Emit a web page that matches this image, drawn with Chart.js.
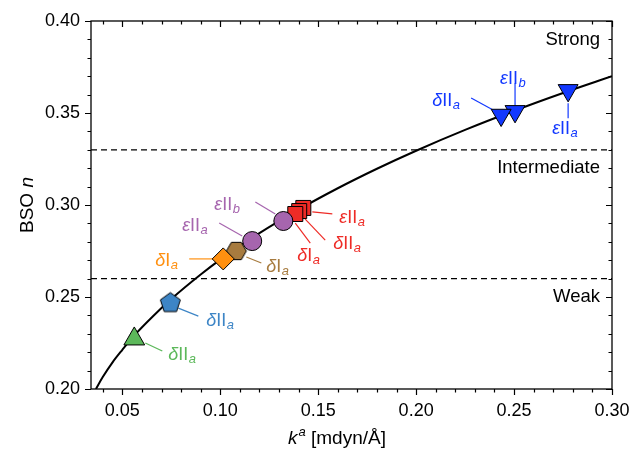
<!DOCTYPE html>
<html>
<head>
<meta charset="utf-8">
<script src="https://cdn.jsdelivr.net/npm/chart.js@4.4.0/dist/chart.umd.min.js"></script>
<style>
  html, body { margin: 0; padding: 0; background: #fff; }
</style>
</head>
<body>
<canvas id="graficoBSO" width="632" height="454"></canvas>
<script>
// Datos
const curveK = [0.0365, 0.040, 0.045, 0.050, 0.056, 0.065, 0.075, 0.090, 0.100, 0.120, 0.140, 0.160, 0.180, 0.200, 0.225, 0.250, 0.275, 0.300];
const curveN = [0.200, 0.2065, 0.2145, 0.2213, 0.229, 0.2389, 0.2489, 0.2622, 0.2703, 0.2847, 0.2975, 0.3091, 0.3197, 0.3295, 0.3408, 0.3512, 0.3609, 0.370];

const markerMain = ['δII', 'δII', 'εII', 'δII', 'δI', 'εII', 'εII', 'δI', 'δI', 'εII', 'δII', 'εII'];
const markerSub  = ['a', 'a', 'a', 'a', 'a', 'a', 'b', 'a', 'a', 'b', 'a', 'a'];
const markerK = [0.0561, 0.0745, 0.1424, 0.1403, 0.1383, 0.1163, 0.1322, 0.1082, 0.1015, 0.2505, 0.2434, 0.2776];
const markerN = [0.2272, 0.2467, 0.2984, 0.2967, 0.2951, 0.2804, 0.2913, 0.2750, 0.2707, 0.3509, 0.3489, 0.3623];

const limits = [0.26, 0.33];
const regionNames = ['Strong', 'Intermediate', 'Weak'];

const xTicks = [0.05, 0.10, 0.15, 0.20, 0.25, 0.30];
const yTicks = [0.20, 0.25, 0.30, 0.35, 0.40];

// Estilos
const fuente = "'Liberation Sans', Arial, sans-serif";
const regionY = [0.3895, 0.320, 0.250];

function poligono(lados, r, fill, rot) {
  const c = document.createElement('canvas');
  const s = Math.ceil(2 * r + 4);
  c.width = s; c.height = s;
  const g = c.getContext('2d');
  g.beginPath();
  for (let i = 0; i < lados; i++) {
    const a = rot + i * 2 * Math.PI / lados;
    const px = s / 2 + r * Math.sin(a), py = s / 2 - r * Math.cos(a);
    if (i === 0) g.moveTo(px, py); else g.lineTo(px, py);
  }
  g.closePath();
  g.fillStyle = fill; g.fill();
  g.lineWidth = 1; g.strokeStyle = '#000'; g.stroke();
  return c;
}

const cVerde = '#5cb85a', cAzulAcero = '#3d85c6', cRojo = '#ee2b26', cMorado = '#a665ae',
      cMarron = '#a77b3f', cNaranja = '#ff9010', cAzul = '#1238ff';

const estilos = [
  { color: cVerde, shape: 'triangle', r: 12, rot: 0, line: [11, 4, 28, 12], text: [34, 15] },
  { color: cAzulAcero, shape: poligono(5, 10.5, cAzulAcero, 0), r: 10, rot: 0, line: [8, 5, 28, 13], text: [36, 17] },
  { color: cRojo, shape: 'rect', r: 10.6, rot: 0, line: [9, 4, 29, 6], text: [36, 9] },
  { color: cRojo, shape: 'rect', r: 10.6, rot: 0, line: [6, 8, 26, 29], text: [34, 32] },
  { color: cRojo, shape: 'rect', r: 10.6, rot: 0, line: [0, 9, 15, 29], text: [2, 41] },
  { color: cMorado, shape: 'circle', r: 9.5, rot: 0, line: [-33, -18, -10, -5], text: [-70, -16] },
  { color: cMorado, shape: 'circle', r: 9.5, rot: 0, line: [-28, -19, -8, -7], text: [-69, -17] },
  { color: cMarron, shape: poligono(6, 10, cMarron, Math.PI / 6), r: 10, rot: 0, line: [10, 6, 25, 12], text: [30, 15] },
  { color: cNaranja, shape: 'rectRot', r: 11, rot: 0, line: [-34, 0, -9, 0], text: [-68, 1] },
  { color: cAzul, shape: 'triangle', r: 11.5, rot: 180, line: [0, -28, 0, -6], text: [-15, -33] },
  { color: cAzul, shape: 'triangle', r: 11.5, rot: 180, line: [-30, -17, -8, -5], text: [-69, -15] },
  { color: cAzul, shape: 'triangle', r: 11.5, rot: 180, line: [0, 13, 0, 28], text: [-16, 38] }
];

// Conjuntos de datos
const conjuntos = [];
conjuntos.push({
  type: 'line', label: 'ajuste', order: 100,
  data: curveK.map((k, i) => ({ x: k, y: curveN[i] })),
  borderColor: '#000', borderWidth: 2, pointRadius: 0,
  tension: 0.4, cubicInterpolationMode: 'monotone', fill: false
});
limits.forEach((v, i) => {
  conjuntos.push({
    type: 'line', label: 'limite' + i, order: 101,
    data: [{ x: 0.034, y: v }, { x: 0.30, y: v }],
    borderColor: '#000', borderWidth: 1.2, borderDash: [6, 4], pointRadius: 0, fill: false
  });
});
markerK.forEach((k, i) => {
  const e = estilos[i];
  conjuntos.push({
    type: 'scatter', label: markerMain[i] + markerSub[i], order: 50 - i,
    data: [{ x: k, y: markerN[i] }],
    pointStyle: e.shape, pointRadius: e.r, pointRotation: e.rot,
    backgroundColor: e.color, borderColor: '#000', borderWidth: 1
  });
});

function etiqueta(ctx, x, yc, main, sub, color) {
  ctx.fillStyle = color;
  ctx.textBaseline = 'alphabetic';
  ctx.textAlign = 'left';
  const base = yc + 6;
  const griega = main[0], resto = main.slice(1);
  ctx.font = 'italic 18px ' + fuente;
  ctx.fillText(griega, x, base);
  let w = ctx.measureText(griega).width;
  ctx.font = '18px ' + fuente;
  ctx.fillText(resto, x + w, base);
  w += ctx.measureText(resto).width;
  ctx.font = 'italic 13px ' + fuente;
  ctx.fillText(sub, x + w + 0.5, base + 3);
}

const decoracion = {
  id: 'decoracion',
  beforeDatasetsDraw(chart) {
    const ctx = chart.ctx, sx = chart.scales.x, sy = chart.scales.y;
    ctx.save();
    markerK.forEach((k, i) => {
      const e = estilos[i];
      const px = sx.getPixelForValue(k), py = sy.getPixelForValue(markerN[i]);
      ctx.beginPath();
      ctx.moveTo(px + e.line[0], py + e.line[1]);
      ctx.lineTo(px + e.line[2], py + e.line[3]);
      ctx.strokeStyle = e.color; ctx.lineWidth = 1.2; ctx.stroke();
    });
    ctx.restore();
  },
  afterDraw(chart) {
    const ctx = chart.ctx, sx = chart.scales.x, sy = chart.scales.y, a = chart.chartArea;
    ctx.save();
    // etiquetas de los puntos
    markerK.forEach((k, i) => {
      const e = estilos[i];
      const px = sx.getPixelForValue(k), py = sy.getPixelForValue(markerN[i]);
      etiqueta(ctx, px + e.text[0], py + e.text[1], markerMain[i], markerSub[i], e.color);
    });
    // regiones
    ctx.fillStyle = '#000'; ctx.font = '18.5px ' + fuente;
    ctx.textAlign = 'right'; ctx.textBaseline = 'middle';
    regionNames.forEach((t, i) => ctx.fillText(t, a.right - 12, sy.getPixelForValue(regionY[i])));
    // marco
    ctx.strokeStyle = '#000'; ctx.lineWidth = 1.3;
    ctx.strokeRect(a.left, a.top, a.right - a.left, a.bottom - a.top);
    // marcas
    ctx.lineWidth = 1.2;
    ctx.beginPath();
    for (let v = 4; v <= 30; v++) {
      const x = Math.round(sx.getPixelForValue(v / 100)) + 0.5;
      const L = v % 5 === 0 ? 6 : 3.5;
      ctx.moveTo(x, a.bottom); ctx.lineTo(x, a.bottom + L);
      ctx.moveTo(x, a.top); ctx.lineTo(x, a.top + L);
    }
    for (let v = 20; v <= 40; v++) {
      const y = Math.round(sy.getPixelForValue(v / 100)) + 0.5;
      const L = v % 5 === 0 ? 6 : 3.5;
      ctx.moveTo(a.left, y); ctx.lineTo(a.left - L, y);
      ctx.moveTo(a.right, y); ctx.lineTo(a.right - L, y);
    }
    ctx.stroke();
    // titulo eje x
    ctx.textAlign = 'left'; ctx.textBaseline = 'alphabetic';
    const bx = 444;
    let x0 = 288;
    ctx.font = 'italic 19px ' + fuente; ctx.fillText('k', x0, bx);
    x0 += ctx.measureText('k').width + 1;
    ctx.font = 'italic 13px ' + fuente; ctx.fillText('a', x0, bx - 8);
    x0 += ctx.measureText('a').width;
    ctx.font = '19px ' + fuente; ctx.fillText(' [mdyn/Å]', x0, bx);
    // titulo eje y
    ctx.translate(33, (a.top + a.bottom) / 2);
    ctx.rotate(-Math.PI / 2);
    ctx.font = '19px ' + fuente;
    const wb = ctx.measureText('BSO ').width;
    ctx.font = 'italic 19px ' + fuente;
    const wn = ctx.measureText('n').width;
    ctx.font = '19px ' + fuente; ctx.fillText('BSO ', -(wb + wn) / 2, 0);
    ctx.font = 'italic 19px ' + fuente; ctx.fillText('n', -(wb + wn) / 2 + wb, 0);
    ctx.restore();
  }
};

const ctxBSO = document.getElementById('graficoBSO').getContext('2d');
const graficoBSO = new Chart(ctxBSO, {
  data: { datasets: conjuntos },
  options: {
    responsive: false,
    devicePixelRatio: 1,
    animation: false,
    layout: { padding: { left: 0, right: 20, top: 21, bottom: 0 } },
    plugins: { legend: { display: false }, tooltip: { enabled: false } },
    scales: {
      x: {
        type: 'linear', min: 0.034, max: 0.30,
        afterBuildTicks: s => { s.ticks = xTicks.map(v => ({ value: v })); },
        afterFit: s => { s.height = 65; s.paddingLeft = 0; s.paddingRight = 0; },
        grid: { display: false, drawTicks: false },
        border: { display: false },
        ticks: { color: '#000', font: { size: 18, family: fuente }, padding: 11, maxRotation: 0, autoSkip: false,
                 callback: v => Number(v).toFixed(2) }
      },
      y: {
        type: 'linear', min: 0.20, max: 0.40,
        afterBuildTicks: s => { s.ticks = yTicks.map(v => ({ value: v })); },
        afterFit: s => { s.width = 91; s.paddingTop = 0; s.paddingBottom = 0; },
        grid: { display: false, drawTicks: false },
        border: { display: false },
        ticks: { color: '#000', font: { size: 18, family: fuente }, padding: 11, autoSkip: false,
                 callback: v => Number(v).toFixed(2) }
      }
    }
  },
  plugins: [decoracion]
});
</script>
</body>
</html>
